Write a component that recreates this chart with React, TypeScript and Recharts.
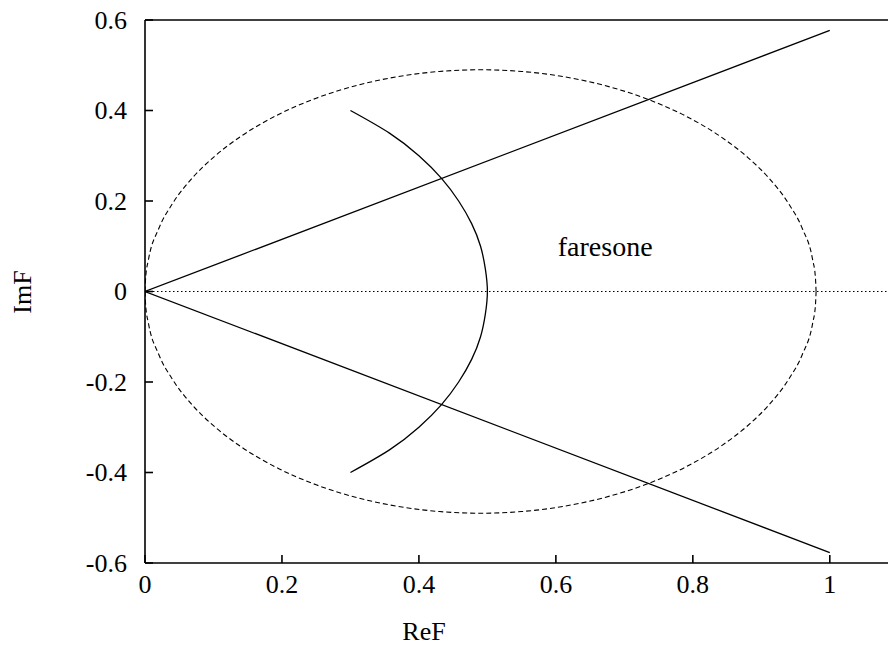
import React from 'react';
import { ComposedChart, Line, XAxis, YAxis, ReferenceLine, ReferenceDot, Label } from 'recharts';

document.body.style.margin = '0';

const FONT = '"Liberation Serif", "DejaVu Serif", serif';

const xTicks = [0, 0.2, 0.4, 0.6, 0.8, 1];
const yTicks = [-0.6, -0.4, -0.2, 0, 0.2, 0.4, 0.6];

// the two rays out of the origin
const upperRay = [
  { x: 0, y: 0 },
  { x: 1, y: 0.577 },
];
const lowerRay = [
  { x: 0, y: 0 },
  { x: 1, y: -0.577 },
];

// solid arc |F| = 0.5
const arcX = [0.3, 0.357, 0.4, 0.433, 0.458, 0.477, 0.49, 0.497, 0.5, 0.497, 0.49, 0.477, 0.458, 0.433, 0.4, 0.357, 0.3];
const arcY = [-0.4, -0.35, -0.3, -0.25, -0.2, -0.15, -0.1, -0.05, 0, 0.05, 0.1, 0.15, 0.2, 0.25, 0.3, 0.35, 0.4];

// dashed circle, upper and lower halves
const circleX = [0, 0.001, 0.005, 0.02, 0.04, 0.07, 0.1, 0.14, 0.19, 0.25, 0.31, 0.37, 0.43, 0.49, 0.55, 0.61, 0.67, 0.73, 0.79, 0.84, 0.88, 0.91, 0.94, 0.96, 0.975, 0.979, 0.98];
const circleUpperY = [0, 0.0313, 0.0698, 0.1386, 0.1939, 0.2524, 0.2966, 0.3429, 0.3874, 0.4272, 0.4557, 0.4751, 0.4863, 0.49, 0.4863, 0.4751, 0.4557, 0.4272, 0.3874, 0.3429, 0.2966, 0.2524, 0.1939, 0.1386, 0.0698, 0.0313, 0];
const circleLowerY = [0, -0.0313, -0.0698, -0.1386, -0.1939, -0.2524, -0.2966, -0.3429, -0.3874, -0.4272, -0.4557, -0.4751, -0.4863, -0.49, -0.4863, -0.4751, -0.4557, -0.4272, -0.3874, -0.3429, -0.2966, -0.2524, -0.1939, -0.1386, -0.0698, -0.0313, 0];

const arc = arcX.map((x, i) => ({ x, y: arcY[i] }));
const circleUpper = circleX.map((x, i) => ({ x, y: circleUpperY[i] }));
const circleLower = circleX.map((x, i) => ({ x, y: circleLowerY[i] }));

const axisStroke = { stroke: '#000', strokeWidth: 1.6 };

const XTick = (props: any) => (
  <text x={props.x} y={props.y} dy="0.71em" textAnchor="middle" fontSize={26} fontFamily={FONT} fill="#000">
    {props.payload.value}
  </text>
);

const YTick = (props: any) => (
  <text x={props.x} y={props.y} dy="0.34em" textAnchor="end" fontSize={26} fontFamily={FONT} fill="#000">
    {props.payload.value}
  </text>
);

export default function App() {
  return (
    <div style={{ width: 888, height: 648, fontFamily: FONT }}>
      <ComposedChart width={888} height={648} margin={{ top: 0, right: 0, bottom: 0, left: 0 }}>
        <XAxis
          dataKey="x"
          type="number"
          domain={[0, 1.085]}
          ticks={xTicks}
          allowDataOverflow
          height={85}
          tickSize={-8}
          tickMargin={20}
          tick={XTick}
          axisLine={axisStroke}
          tickLine={axisStroke}
        >
          <Label
            content={() => (
              <text x={424} y={640} textAnchor="middle" fontSize={26} fontFamily={FONT} fill="#000">
                ReF
              </text>
            )}
          />
        </XAxis>
        <XAxis
          xAxisId="top"
          orientation="top"
          dataKey="x"
          type="number"
          domain={[0, 1.085]}
          ticks={xTicks}
          allowDataOverflow
          height={20}
          tickSize={-8}
          tick={false}
          axisLine={axisStroke}
          tickLine={axisStroke}
        />
        <YAxis
          type="number"
          domain={[-0.6, 0.6]}
          ticks={yTicks}
          allowDataOverflow
          width={145}
          tickSize={-8}
          tickMargin={26}
          tick={YTick}
          axisLine={axisStroke}
          tickLine={axisStroke}
        >
          <Label
            content={() => (
              <text
                x={22}
                y={292}
                transform="rotate(-90 22 292)"
                textAnchor="middle"
                dominantBaseline="central"
                fontSize={26}
                fontFamily={FONT}
                fill="#000"
              >
                ImF
              </text>
            )}
          />
        </YAxis>
        <ReferenceLine y={0} stroke="#000" strokeWidth={1} strokeDasharray="1.5 2.5" />
        <Line data={upperRay} dataKey="y" type="linear" stroke="#000" strokeWidth={1.3} dot={false} activeDot={false} isAnimationActive={false} />
        <Line data={lowerRay} dataKey="y" type="linear" stroke="#000" strokeWidth={1.3} dot={false} activeDot={false} isAnimationActive={false} />
        <Line data={arc} dataKey="y" type="natural" stroke="#000" strokeWidth={1.3} dot={false} activeDot={false} isAnimationActive={false} />
        <Line data={circleUpper} dataKey="y" type="monotoneX" stroke="#000" strokeWidth={1.1} strokeDasharray="5 3" dot={false} activeDot={false} isAnimationActive={false} />
        <Line data={circleLower} dataKey="y" type="monotoneX" stroke="#000" strokeWidth={1.1} strokeDasharray="5 3" dot={false} activeDot={false} isAnimationActive={false} />
        <ReferenceDot
          x={0.672}
          y={0.1}
          r={0}
          fill="none"
          stroke="none"
          label={{ value: 'faresone', position: 'center', fontSize: 28, fontFamily: FONT, fill: '#000' }}
        />
      </ComposedChart>
    </div>
  );
}
